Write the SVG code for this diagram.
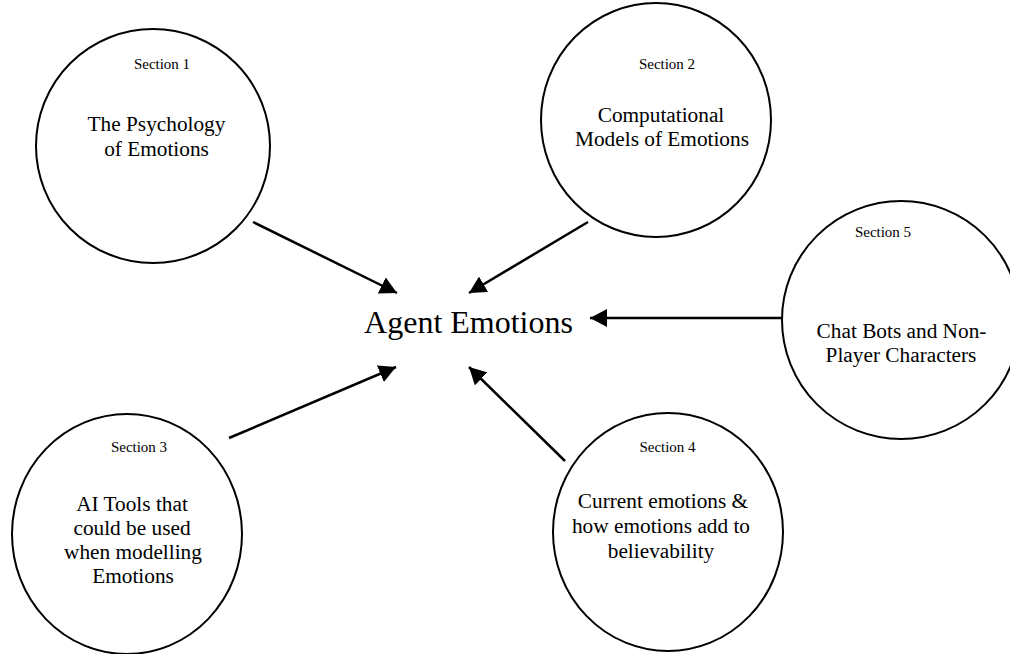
<svg xmlns="http://www.w3.org/2000/svg" width="1010" height="654" viewBox="0 0 1010 654">
  <style>
    .node { fill: #ffffff; stroke: #000000; stroke-width: 2; }
    .sec { font-family: "Liberation Serif", "Times New Roman", serif; font-size: 15px; fill: #000000; text-anchor: middle; }
    .lbl { font-family: "Liberation Serif", "Times New Roman", serif; font-size: 21.3px; fill: #000000; text-anchor: middle; }
    .hub { font-family: "Liberation Serif", "Times New Roman", serif; font-size: 32px; fill: #000000; text-anchor: middle; }
    .link { stroke: #000000; stroke-width: 2.5; fill: none; marker-end: url(#head); }
  </style>
  <defs>
    <!-- solid triangular arrowhead shared by every connector -->
    <marker id="head" markerUnits="userSpaceOnUse" markerWidth="19" markerHeight="18" refX="17" refY="9" orient="auto">
      <path d="M0,0 L17,9 L0,18 Z" fill="#000000"/>
    </marker>
  </defs>
  <rect width="1010" height="654" fill="#ffffff"/>

  <g id="links">
    <line class="link" x1="253" y1="222" x2="397" y2="293"/>
    <line class="link" x1="588" y1="222" x2="469" y2="293"/>
    <line class="link" x1="782" y1="318" x2="590" y2="318"/>
    <line class="link" x1="229" y1="438" x2="396" y2="367"/>
    <line class="link" x1="565" y1="461" x2="469" y2="367"/>
  </g>

  <g id="hub">
    <text class="hub" x="468.5" y="333">Agent Emotions</text>
  </g>

  <g id="section1">
    <ellipse class="node" cx="153" cy="146" rx="117" ry="117"/>
    <text class="sec" x="162" y="69">Section 1</text>
    <text class="lbl" x="156.5" y="131">The Psychology</text>
    <text class="lbl" x="156.5" y="156">of Emotions</text>
  </g>

  <g id="section2">
    <ellipse class="node" cx="656" cy="120" rx="115" ry="117"/>
    <text class="sec" x="667" y="69">Section 2</text>
    <text class="lbl" x="661" y="122">Computational</text>
    <text class="lbl" x="662" y="146">Models of Emotions</text>
  </g>

  <g id="section3">
    <ellipse class="node" cx="127" cy="534" rx="115" ry="120"/>
    <text class="sec" x="139" y="452">Section 3</text>
    <text class="lbl" x="132" y="511">AI Tools that</text>
    <text class="lbl" x="132" y="535">could be used</text>
    <text class="lbl" x="133" y="559">when modelling</text>
    <text class="lbl" x="133" y="583">Emotions</text>
  </g>

  <g id="section4">
    <ellipse class="node" cx="668" cy="532" rx="115" ry="119"/>
    <text class="sec" x="667.5" y="452">Section 4</text>
    <text class="lbl" x="663" y="508">Current emotions  &amp;</text>
    <text class="lbl" x="661" y="533">how emotions add to</text>
    <text class="lbl" x="661" y="558">believability</text>
  </g>

  <g id="section5">
    <ellipse class="node" cx="901" cy="320" rx="119" ry="119"/>
    <text class="sec" x="883" y="237">Section 5</text>
    <text class="lbl" x="901.5" y="338">Chat Bots and Non-</text>
    <text class="lbl" x="901" y="362">Player Characters</text>
  </g>
</svg>
